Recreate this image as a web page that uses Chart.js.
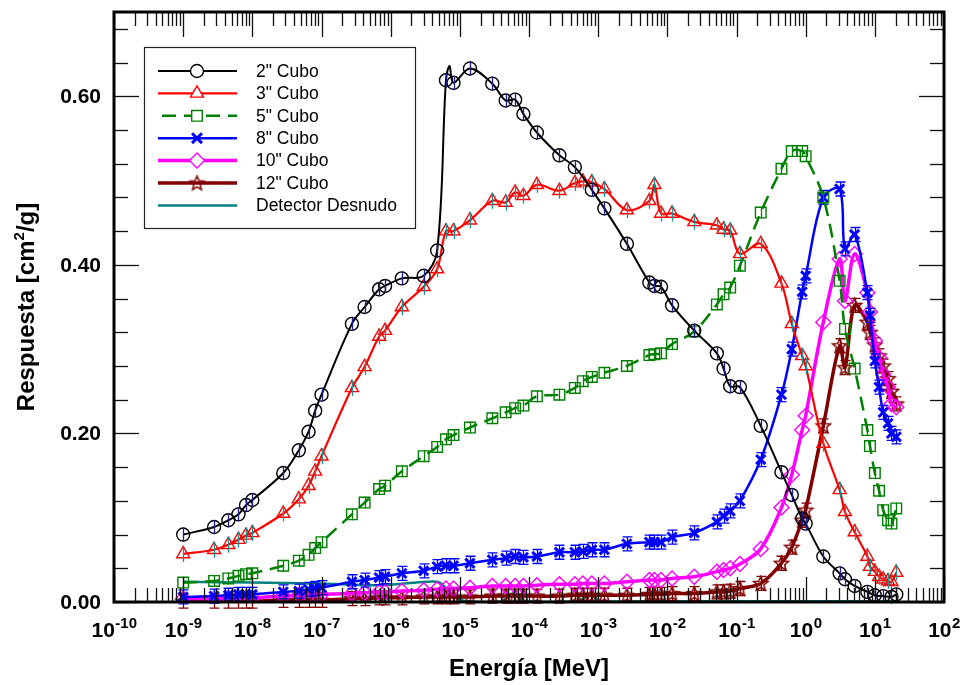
<!DOCTYPE html>
<html lang="es">
<head>
<meta charset="utf-8">
<title>Respuesta de los cubos</title>
<script src="https://cdn.jsdelivr.net/npm/chart.js@4.4.1/dist/chart.umd.min.js"></script>
<style>
  html, body { margin: 0; padding: 0; background: #fff; }
</style>
</head>
<body>
<canvas id="grafico" width="964" height="685"></canvas>
<script>
// ===== DATOS =====
// energías comunes de los cubos [MeV]
const energia = [
  1e-9, 2.8e-9, 4.5e-9, 6.3e-9, 8.1e-9, 1e-8, 2.8e-8, 4.7e-8, 6.5e-8, 8.1e-8,
  1e-7, 2.75e-7, 4.2e-7, 6.8e-7, 8.3e-7, 1.45e-6, 3.0e-6, 4.7e-6, 6.3e-6, 8.1e-6,
  1.4e-5, 2.95e-5, 4.6e-5, 6.3e-5, 8.3e-5, 1.3e-4, 2.75e-4, 4.6e-4, 6.0e-4, 8.1e-4,
  1.23e-3, 2.6e-3, 5.5e-3, 6.5e-3, 8.1e-3, 1.17e-2, 2.45e-2, 5.2e-2, 6.5e-2, 8.1e-2,
  0.112, 0.224, 0.447, 0.63, 0.89, 1.0, 1.8, 3.1, 3.7, 5.1,
  7.8, 8.5, 10, 11.5, 13.2, 15.5, 17.4, 20.4
];

const cubo2 = [
  0.080, 0.089, 0.097, 0.104, 0.115, 0.121, 0.153, 0.180, 0.202, 0.227,
  0.246, 0.330, 0.350, 0.371, 0.375, 0.384, 0.387, 0.417, 0.619, 0.616,
  0.633, 0.615, 0.595, 0.596, 0.579, 0.557, 0.530, 0.516, null, 0.489,
  0.467, 0.425, 0.379, 0.375, 0.374, 0.352, 0.322, 0.295, 0.277, 0.256,
  0.255, 0.209, 0.154, 0.127, 0.099, 0.093, 0.054, 0.034, 0.027, 0.019,
  0.012, null, 0.008, null, 0.007, null, 0.006, 0.009
];
// pico del 2" (sin marcador)
const pico2 = [7.1e-6, 0.636];

const cubo3 = [
  0.057, 0.062, 0.068, 0.074, 0.079, 0.082, 0.105, 0.122, 0.138, 0.155,
  0.173, 0.254, 0.279, 0.315, 0.322, 0.350, 0.374, 0.395, 0.440, 0.440,
  0.453, 0.476, 0.474, 0.486, 0.482, 0.495, 0.488, 0.497, 0.499, 0.498,
  0.490, 0.465, 0.476, 0.495, 0.461, 0.461, 0.451, 0.447, 0.442, 0.441,
  0.413, 0.425, 0.378, 0.330, 0.292, 0.280, 0.188, 0.133, 0.107, 0.083,
  0.054, 0.042, 0.036, 0.030, 0.027, 0.025, 0.024, 0.035
];

const cubo5 = [
  0.023, 0.025, 0.028, 0.031, 0.033, 0.034, 0.043, 0.049, 0.056, 0.064,
  0.071, 0.104, 0.118, 0.134, 0.138, 0.155, 0.173, 0.184, 0.193, 0.198,
  0.207, 0.218, 0.225, 0.230, 0.233, 0.244, 0.246, 0.254, 0.262, 0.267,
  0.272, 0.280, 0.293, 0.294, 0.295, 0.306, 0.321, 0.353, 0.365, 0.373,
  0.399, 0.462, 0.514, 0.535, 0.535, 0.529, 0.480, 0.381, 0.324, 0.277,
  0.204, 0.185, 0.153, 0.132, 0.109, 0.097, 0.093, 0.111
];

const cubo8 = [
  0.006, 0.007, 0.008, 0.009, 0.009, 0.009, 0.012, 0.013, 0.015, 0.016,
  0.017, 0.024, 0.026, 0.029, 0.030, 0.034, 0.037, 0.042, 0.043, 0.043,
  0.046, 0.050, 0.052, 0.054, 0.053, 0.054, 0.059, 0.059, 0.060, 0.062,
  0.062, 0.069, 0.071, 0.071, 0.071, 0.077, 0.082, 0.095, 0.102, 0.108,
  0.120, 0.169, 0.246, 0.300, 0.368, 0.387, 0.480, 0.490, 0.419, 0.436,
  0.367, 0.340, 0.286, 0.255, 0.225, 0.212, 0.200, 0.196
];

const cubo10 = [
  0.004, 0.004, 0.005, 0.005, 0.005, 0.005, 0.007, 0.008, 0.008, 0.009,
  0.009, 0.010, 0.011, 0.012, 0.012, 0.013, 0.014, 0.015, 0.016, 0.016,
  0.017, 0.019, 0.019, 0.019, 0.019, 0.020, 0.021, 0.021, 0.022, 0.022,
  0.022, 0.024, 0.026, 0.026, 0.026, 0.028, 0.030, 0.036, 0.038, 0.040,
  0.045, 0.063, 0.112, 0.151, 0.204, 0.221, 0.332, 0.407, 0.357, 0.413,
  0.367, 0.344, 0.310, 0.290, 0.270, 0.255, 0.235, 0.231
];

const cubo12 = [
  0.001, 0.001, 0.001, 0.001, 0.001, 0.001, 0.002, 0.002, 0.002, 0.002,
  0.002, 0.004, 0.004, 0.005, 0.005, 0.005, 0.006, 0.006, 0.006, 0.006,
  0.006, 0.007, 0.007, 0.007, 0.007, 0.007, 0.007, 0.008, 0.008, 0.008,
  0.008, 0.008, 0.009, 0.009, 0.009, 0.010, 0.010, 0.012, 0.012, 0.013,
  0.016, 0.022, 0.046, 0.065, 0.097, 0.109, 0.209, 0.304, 0.278, 0.352,
  0.332, 0.320, 0.305, 0.292, 0.280, 0.265, 0.250, 0.235
];

// detector desnudo (solo línea)
const energiaDesnudo = [
  1e-9, 1e-8, 8.5e-8, 7.8e-7, 3.3e-6, 5.1e-6, 8.5e-6, 1.26e-5, 4e-5, 5.9e-5,
  8.7e-5, 5e-4, 7.6e-4, 1.12e-3, 1e-2, 1e-1, 1, 10, 20.4
];
const desnudo = [
  0.024, 0.023, 0.022, 0.020, 0.024, 0.023, 0.006, 0.001, 0.001, 0.010,
  0.001, 0.001, 0.008, 0.001, 0.001, 0.001, 0.001, 0.001, 0.001
];

// ejes
const yTicks = [0, 0.2, 0.4, 0.6];
const xExponentes = [-10, -9, -8, -7, -6, -5, -4, -3, -2, -1, 0, 1, 2];

// ===== UTILIDADES =====
const FUENTE = '"Liberation Sans", Arial, Helvetica, sans-serif';

function puntos(xs, ys) {
  return xs.map((x, i) => ({ x: x, y: ys[i] })).filter((p) => p.y !== null);
}

// estrella de 5 puntas como imagen para el marcador
function estrella(color, r) {
  const c = document.createElement("canvas");
  const s = Math.ceil(r * 2 + 4);
  c.width = s;
  c.height = s;
  const g = c.getContext("2d");
  g.strokeStyle = color;
  g.lineWidth = 1.5;
  g.beginPath();
  for (let i = 0; i < 10; i++) {
    const ang = -Math.PI / 2 + (i * Math.PI) / 5;
    const rr = i % 2 ? r * 0.45 : r;
    g.lineTo(s / 2 + rr * Math.cos(ang), s / 2 + 0.5 + rr * Math.sin(ang));
  }
  g.closePath();
  g.stroke();
  return c;
}

const datos2 = puntos(energia, cubo2)
  .concat([{ x: pico2[0], y: pico2[1], oculto: true }])
  .sort((a, b) => a.x - b.x);

const comun = {
  fill: false,
  tension: 0.35,
  spanGaps: true,
  pointBackgroundColor: "rgba(0,0,0,0)",
  pointBorderWidth: 1.4,
  pointRadius: 6.5,
  pointHoverRadius: 6.5,
};

const datasets = [
  Object.assign({}, comun, {
    label: '2" Cubo',
    data: datos2,
    borderColor: "#000000",
    pointBorderColor: "#000000",
    borderWidth: 2,
    pointStyle: "circle",
    pointRadius: (c) => (c.raw && c.raw.oculto ? 0 : 6.5),
    radioLeyenda: 6.5,
    barra: { color: "#1c1c8c", h: 7, tapa: 0 },
  }),
  Object.assign({}, comun, {
    label: '3" Cubo',
    data: puntos(energia, cubo3),
    borderColor: "#ff0000",
    pointBorderColor: "#ff0000",
    borderWidth: 2.2,
    pointStyle: "triangle",
    pointRadius: 7.5,
    radioLeyenda: 7.5,
    barra: { color: "#1f9090", h: 8, tapa: 0 },
  }),
  Object.assign({}, comun, {
    label: '5" Cubo',
    data: puntos(energia, cubo5),
    borderColor: "#008000",
    pointBorderColor: "#008000",
    borderWidth: 2.5,
    borderDash: [14, 8],
    pointStyle: "rect",
    pointRadius: 7.5,
    radioLeyenda: 7.5,
    barra: { color: "#008000", h: 6, tapa: 0 },
  }),
  Object.assign({}, comun, {
    label: '8" Cubo',
    data: puntos(energia, cubo8),
    borderColor: "#0000ff",
    pointBorderColor: "#0000ff",
    borderWidth: 2.5,
    pointStyle: "crossRot",
    pointRadius: 6.5,
    radioLeyenda: 7,
    pointBorderWidth: 3,
    barra: { color: "#0000ff", h: 7, tapa: 5 },
  }),
  Object.assign({}, comun, {
    label: '10" Cubo',
    data: puntos(energia, cubo10),
    borderColor: "#ff00ff",
    pointBorderColor: "#ff00ff",
    borderWidth: 3.5,
    pointStyle: "rectRot",
    pointRadius: 7.5,
    radioLeyenda: 7.5,
  }),
  Object.assign({}, comun, {
    label: '12" Cubo',
    data: puntos(energia, cubo12),
    borderColor: "#800000",
    pointBorderColor: "#800000",
    borderWidth: 3.5,
    pointStyle: estrella("#800000", 7.5),
    radioLeyenda: 7,
    barra: { color: "#800000", h: 7, tapa: 5 },
  }),
  Object.assign({}, comun, {
    label: "Detector Desnudo",
    data: puntos(energiaDesnudo, desnudo),
    borderColor: "#008080",
    borderWidth: 2.5,
    pointRadius: 0,
    tension: 0.3,
  }),
];

// ===== PLUGIN: BARRAS DE ERROR =====
const barras = {
  id: "barras",
  afterDatasetDraw(chart, args) {
    const ds = chart.data.datasets[args.index];
    if (!ds.barra) return;
    const { ctx } = chart;
    const b = ds.barra;
    ctx.save();
    ctx.strokeStyle = b.color;
    ctx.lineWidth = 1.3;
    args.meta.data.forEach((el, i) => {
      const raw = ds.data[i];
      if (raw && raw.oculto) return;
      const x = Math.round(el.x) + 0.5;
      ctx.beginPath();
      ctx.moveTo(x, el.y - b.h);
      ctx.lineTo(x, el.y + b.h);
      if (b.tapa) {
        ctx.moveTo(x - b.tapa, el.y - b.h);
        ctx.lineTo(x + b.tapa, el.y - b.h);
        ctx.moveTo(x - b.tapa, el.y + b.h);
        ctx.lineTo(x + b.tapa, el.y + b.h);
      }
      ctx.stroke();
    });
    ctx.restore();
  },
};

// ===== PLUGIN: MARCO, MARCAS Y ETIQUETAS =====
const ejes = {
  id: "ejes",
  afterDatasetsDraw(chart) {
    const { ctx, chartArea: a, scales } = chart;
    const sx = scales.x;
    const sy = scales.y;
    ctx.save();
    ctx.strokeStyle = "#111";
    ctx.lineWidth = 1.3;

    const linea = (x1, y1, x2, y2) => {
      ctx.beginPath();
      ctx.moveTo(x1, y1);
      ctx.lineTo(x2, y2);
      ctx.stroke();
    };

    // marcas eje x (arriba y abajo)
    const eMin = xExponentes[0];
    const eMax = xExponentes[xExponentes.length - 1];
    for (let e = eMin; e <= eMax; e++) {
      for (let m = 1; m <= 9; m++) {
        if (e === eMax && m > 1) break;
        const px = Math.round(sx.getPixelForValue(m * Math.pow(10, e))) + 0.5;
        const largo = m === 1 ? 25 : 14;
        linea(px, a.bottom, px, a.bottom - largo);
        linea(px, a.top, px, a.top + largo);
      }
    }

    // marcas eje y cada 0.04
    for (let k = 0; k <= 17; k++) {
      const py = Math.round(sy.getPixelForValue(k * 0.04)) + 0.5;
      const largo = k % 5 === 0 ? 25 : 14;
      linea(a.left, py, a.left + largo, py);
      linea(a.right, py, a.right - largo, py);
    }

    // marco
    ctx.strokeStyle = "#000";
    ctx.lineWidth = 3;
    ctx.strokeRect(a.left, a.top, a.right - a.left, a.bottom - a.top);

    // etiquetas eje y
    ctx.fillStyle = "#000";
    ctx.font = "bold 21px " + FUENTE;
    ctx.textAlign = "right";
    ctx.textBaseline = "middle";
    yTicks.forEach((v) => {
      ctx.fillText(v.toFixed(2), a.left - 13, sy.getPixelForValue(v) + 1);
    });

    // etiquetas eje x: 10 con exponente
    ctx.textAlign = "left";
    ctx.textBaseline = "alphabetic";
    xExponentes.forEach((e) => {
      const px = sx.getPixelForValue(Math.pow(10, e));
      ctx.font = "bold 21px " + FUENTE;
      const w1 = ctx.measureText("10").width;
      ctx.font = "bold 15px " + FUENTE;
      const w2 = ctx.measureText(String(e)).width;
      const x0 = px - (w1 + w2) / 2;
      ctx.font = "bold 21px " + FUENTE;
      ctx.fillText("10", x0, 637);
      ctx.font = "bold 15px " + FUENTE;
      ctx.fillText(String(e), x0 + w1 + 0.5, 628);
    });

    // título eje x
    ctx.font = "bold 24px " + FUENTE;
    ctx.textAlign = "center";
    ctx.textBaseline = "middle";
    ctx.fillText("Energía [MeV]", (a.left + a.right) / 2, 669);

    // título eje y (con superíndice)
    ctx.translate(27, (a.top + a.bottom) / 2);
    ctx.rotate(-Math.PI / 2);
    ctx.textAlign = "left";
    ctx.textBaseline = "middle";
    const p1 = "Respuesta [cm";
    const p2 = "2";
    const p3 = "/g]";
    ctx.font = "bold 24px " + FUENTE;
    const w1 = ctx.measureText(p1).width;
    const w3 = ctx.measureText(p3).width;
    ctx.font = "bold 15px " + FUENTE;
    const w2 = ctx.measureText(p2).width;
    let x = -(w1 + w2 + w3) / 2;
    ctx.font = "bold 24px " + FUENTE;
    ctx.fillText(p1, x, 0);
    x += w1;
    ctx.font = "bold 15px " + FUENTE;
    ctx.fillText(p2, x, -7);
    x += w2;
    ctx.font = "bold 24px " + FUENTE;
    ctx.fillText(p3, x, 0);
    ctx.restore();
  },
};

// ===== PLUGIN: LEYENDA =====
const leyenda = {
  id: "leyenda",
  afterDraw(chart) {
    const { ctx } = chart;
    const caja = { x: 144.5, y: 47.5, w: 271, h: 181 };
    ctx.save();
    ctx.fillStyle = "#fff";
    ctx.fillRect(caja.x, caja.y, caja.w, caja.h);
    ctx.strokeStyle = "#222";
    ctx.lineWidth = 1.2;
    ctx.strokeRect(caja.x, caja.y, caja.w, caja.h);

    chart.data.datasets.forEach((ds, i) => {
      const y = 71 + i * 22.4;
      ctx.strokeStyle = ds.borderColor;
      ctx.lineWidth = ds.borderWidth;
      ctx.setLineDash(ds.borderDash || []);
      if (ds.borderDash) ctx.lineDashOffset = -4;
      ctx.beginPath();
      ctx.moveTo(158, y);
      ctx.lineTo(237, y);
      ctx.stroke();
      ctx.setLineDash([]);
      ctx.lineDashOffset = 0;

      if (ds.radioLeyenda) {
        ctx.fillStyle = "#fff";
        ctx.strokeStyle = ds.pointBorderColor;
        ctx.lineWidth = ds.pointBorderWidth;
        Chart.helpers.drawPoint(
          ctx,
          {
            pointStyle: ds.pointStyle,
            radius: ds.radioLeyenda,
            rotation: 0,
            borderWidth: ds.pointBorderWidth,
          },
          197,
          y
        );
      }

      ctx.fillStyle = "#000";
      ctx.font = "17.5px " + FUENTE;
      ctx.textAlign = "left";
      ctx.textBaseline = "middle";
      ctx.fillText(ds.label, 256, y + 1);
    });
    ctx.restore();
  },
};

// ===== GRAFICO =====
new Chart(document.getElementById("grafico").getContext("2d"), {
  type: "line",
  data: { datasets: datasets },
  options: {
    responsive: false,
    animation: false,
    events: [],
    layout: { padding: { left: 114, right: 20, top: 12, bottom: 83 } },
    scales: {
      x: { type: "logarithmic", min: 1e-10, max: 1e2, display: false },
      y: { type: "linear", min: 0, max: 0.7, display: false },
    },
    plugins: {
      legend: { display: false },
      tooltip: { enabled: false },
    },
  },
  plugins: [barras, ejes, leyenda],
});
</script>
</body>
</html>
